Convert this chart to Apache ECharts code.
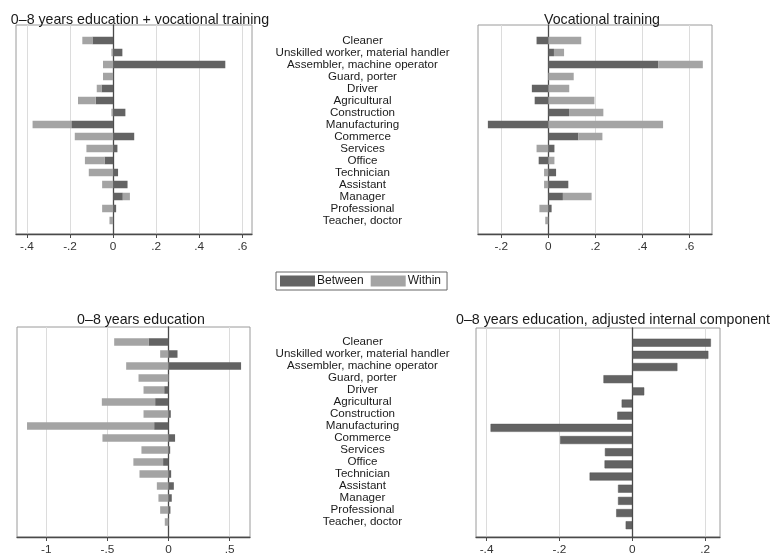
<!DOCTYPE html>
<html><head><meta charset="utf-8">
<script src="https://cdn.jsdelivr.net/npm/echarts@6/dist/echarts.min.js"></script>
<style>html,body{margin:0;padding:0;background:#fff}#c{width:771px;height:556px}</style>
</head><body><div id="c"></div>
<script>
var categories = ["Cleaner","Unskilled worker, material handler","Assembler, machine operator","Guard, porter","Driver","Agricultural","Construction","Manufacturing","Commerce","Services","Office","Technician","Assistant","Manager","Professional","Teacher, doctor"];

// Panel 1: 0–8 years education + vocational training
var p1Between = [-0.096,0.043,0.521,0.0,-0.054,-0.081,0.057,-0.194,0.098,0.020,-0.040,0.023,0.067,0.045,0.014,0.0];
var p1Within  = [-0.047,-0.008,-0.047,-0.047,-0.022,-0.082,-0.008,-0.180,-0.178,-0.124,-0.091,-0.113,-0.051,0.033,-0.051,-0.017];
var p1Ticks = [-0.4,-0.2,0,0.2,0.4,0.6];

// Panel 2: Vocational training
var p2Between = [-0.050,0.024,0.467,0.0,-0.070,-0.058,0.088,-0.257,0.128,0.026,-0.041,0.033,0.085,0.062,0.014,0.0];
var p2Within  = [0.140,0.043,0.190,0.108,0.089,0.196,0.146,0.488,0.102,-0.050,0.026,-0.018,-0.018,0.122,-0.038,-0.013];
var p2Ticks = [-0.2,0,0.2,0.4,0.6];

// Panel 3: 0–8 years education
var p3Between = [-0.163,0.074,0.594,0.0,-0.035,-0.109,0.019,-0.117,0.054,0.014,-0.044,0.022,0.044,0.027,0.016,0.0];
var p3Within  = [-0.281,-0.068,-0.346,-0.245,-0.169,-0.436,-0.204,-1.040,-0.540,-0.221,-0.243,-0.237,-0.095,-0.082,-0.068,-0.030];
var p3Ticks = [-1,-0.5,0,0.5];

// Panel 4: 0–8 years education, adjusted internal component
var p4Values = [0.216,0.209,0.124,-0.079,0.033,-0.029,-0.041,-0.389,-0.198,-0.075,-0.076,-0.117,-0.039,-0.039,-0.044,-0.018];
var p4Ticks = [-0.4,-0.2,0,0.2];

var titles = ["0\u20138 years education + vocational training","Vocational training","0\u20138 years education","0\u20138 years education, adjusted internal component"];

var FONT = "'Liberation Sans',Arial,sans-serif";
var DARK = '#636363', LIGHT = '#a4a4a4';

var panels = [
  {left:16, width:236, top:25, height:209, itop:34.5, iheight:192, min:-0.451, max:0.645, ticks:p1Ticks, tx:135, ty:8},
  {left:478, width:234, top:25, height:209, itop:34.5, iheight:192, min:-0.299, max:0.696, ticks:p2Ticks, tx:597, ty:8},
  {left:17, width:233, top:327, height:210, itop:336, iheight:192, min:-1.239, max:0.667, ticks:p3Ticks, tx:136, ty:308},
  {left:476, width:244, top:328, height:211, itop:336.6, iheight:194.7, min:-0.429, max:0.241, ticks:p4Ticks, tx:608, ty:308}
];

function fmt(v){
  if (Math.abs(v) < 1e-9) return '0';
  var s = String(Math.round(v*100)/100);
  return s.replace(/^(-?)0\./, '$1.');
}

var grid = [], xAxis = [], yAxis = [], title = [];
panels.forEach(function(p, i){
  grid.push({left:p.left, top:p.top, width:p.width, height:p.height, show:true, borderColor:'#9a9a9a', borderWidth:1, backgroundColor:'#fff', containLabel:false});
  title.push({text:titles[i], left:p.tx, top:p.ty, textAlign:'center', textStyle:{fontFamily:FONT, fontSize:14.2, fontWeight:'normal', color:'#1a1a1a'}});
});
panels.forEach(function(p, i){
  grid.push({left:p.left, top:p.itop, width:p.width, height:p.iheight, show:false, containLabel:false});
});
panels.forEach(function(p, i){
  xAxis.push({type:'value', gridIndex:i, min:p.min, max:p.max,
    axisLine:{show:true, onZero:false, lineStyle:{color:'#4a4a4a', width:1.3}},
    axisTick:{show:true, length:4, customValues:p.ticks, lineStyle:{color:'#4a4a4a'}},
    axisLabel:{show:true, customValues:p.ticks, formatter:fmt, margin:7, fontFamily:FONT, fontSize:11.8, color:'#333'},
    splitLine:{show:true, lineStyle:{color:'#dcdcdc', width:1}}
  });
  yAxis.push({type:'value', gridIndex:i, min:0, max:1,
    axisLine:{show:true, lineStyle:{color:'#4a4a4a', width:1.3}},
    axisTick:{show:false}, axisLabel:{show:false}, splitLine:{show:false}});
});
panels.forEach(function(p, i){
  xAxis.push({type:'value', gridIndex:4+i, min:p.min, max:p.max, show:false});
  var showLab = (i===1 || i===2);
  var cat = {type:'category', gridIndex:4+i, data:categories, inverse:true,
    axisLine:{show:false}, axisTick:{show:false}, splitLine:{show:false},
    axisLabel:{show:showLab, interval:0, align:'center', fontFamily:FONT, fontSize:11.6, color:'#1a1a1a', lineHeight:12, padding:[2,0,0,0]}};
  if (i===1){ cat.position='left'; cat.axisLabel.margin = 478-362.5; }
  if (i===2){ cat.position='right'; cat.axisLabel.margin = 362.5-250; }
  yAxis.push(cat);
});

var series = [];
[[p1Between,p1Within],[p2Between,p2Within],[p3Between,p3Within]].forEach(function(pair, i){
  series.push({name:'Between', type:'bar', xAxisIndex:4+i, yAxisIndex:4+i, stack:'s'+i, data:pair[0], barWidth:7.5, itemStyle:{color:DARK}, silent:true});
  series.push({name:'Within', type:'bar', xAxisIndex:4+i, yAxisIndex:4+i, stack:'s'+i, data:pair[1], barWidth:7.5, itemStyle:{color:LIGHT}, silent:true});
});
series.push({name:'Adjusted', type:'bar', xAxisIndex:7, yAxisIndex:7, data:p4Values, barWidth:8, itemStyle:{color:DARK, borderColor:'#555', borderWidth:0.5}, silent:true});

var chart = echarts.init(document.getElementById('c'), null, {renderer:'canvas'});
chart.setOption({
  animation:false,
  title:title,
  grid:grid, xAxis:xAxis, yAxis:yAxis, series:series,
  legend:{data:['Between','Within'], left:276, top:272, orient:'horizontal', icon:'rect', itemWidth:35, itemHeight:11, itemGap:7,
    padding:[3,6,3,4], borderColor:'#666', borderWidth:1, selectedMode:false,
    textStyle:{fontFamily:FONT, fontSize:12, color:'#1a1a1a', padding:[0,0,0,-3]}}
});
</script></body></html>
